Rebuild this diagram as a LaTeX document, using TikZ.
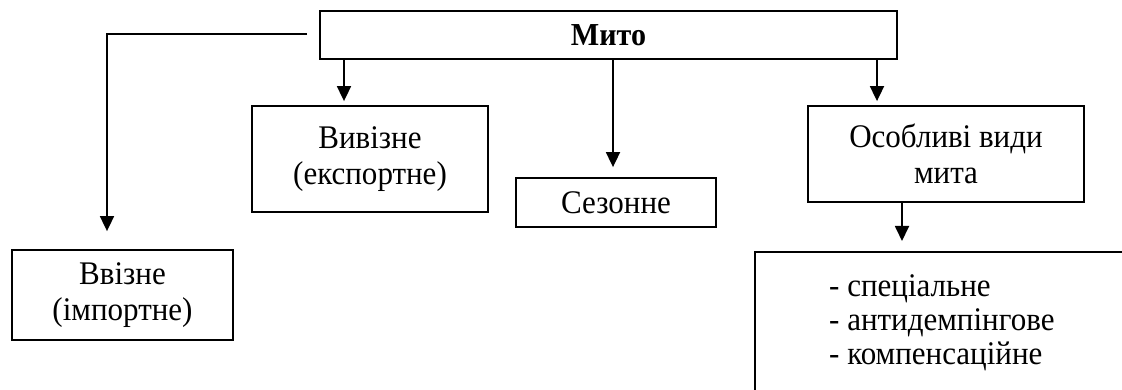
\documentclass[tikz,border=0pt]{standalone}
\usepackage{fontspec}
\setmainfont{Liberation Serif}[FakeStretch=0.94]
\usetikzlibrary{arrows.meta,calc}
\begin{document}
\begin{tikzpicture}[x=1pt,y=-1pt,
  box/.style={draw,line width=1.8pt,inner sep=0pt,align=center,
    font=\fontsize{33}{36}\selectfont},
  arr/.style={line width=1.8pt,-{Triangle[width=14pt,length=15pt]}}]
\useasboundingbox (0,0) rectangle (1122,390);
\node[box,minimum width=577pt,minimum height=48pt,font=\fontsize{32}{36}\selectfont\bfseries] (mito) at (608.5,35) {Мито};
\node[box,minimum width=236pt,minimum height=106pt] (vyv) at (370,159) {Вивізне\\(експортне)};
\node[box,minimum width=200pt,minimum height=49pt] (sez) at (616,202.5) {Сезонне};
\node[box,minimum width=276pt,minimum height=96pt] (oso) at (946,154) {Особливі види\\мита};
\node[box,minimum width=221pt,minimum height=90pt] (vvi) at (122.5,295) {Ввізне\\(імпортне)};
\node[anchor=north west,inner sep=0pt,align=left,font=\fontsize{33}{34}\selectfont] (list) at (829,274)
  {- спеціальне\\- антидемпінгове\\- компенсаційне};
\coordinate (ltop) at (755,252);
\coordinate (lend) at (1126,252);
\coordinate (lbot) at (755,394);
\draw[line width=1.8pt] (lend) -- (ltop) -- (lbot);
% connectors
\coordinate (s1) at (307,34);
\coordinate (c1) at (107,34);
\draw[arr,shorten >=18pt] (s1) -- (c1) -- (c1 |- vvi.north);
\coordinate (x2) at (344,0);
\draw[arr,shorten >=4pt] (x2 |- mito.south) -- (x2 |- vyv.north);
\coordinate (x3) at (613,0);
\draw[arr,shorten >=10pt] (x3 |- mito.south) -- (x3 |- sez.north);
\coordinate (x4) at (877,0);
\draw[arr,shorten >=4pt] (x4 |- mito.south) -- (x4 |- oso.north);
\coordinate (x5) at (902,0);
\draw[arr,shorten >=11pt] (x5 |- oso.south) -- (x5 |- ltop);
\end{tikzpicture}
\end{document}
